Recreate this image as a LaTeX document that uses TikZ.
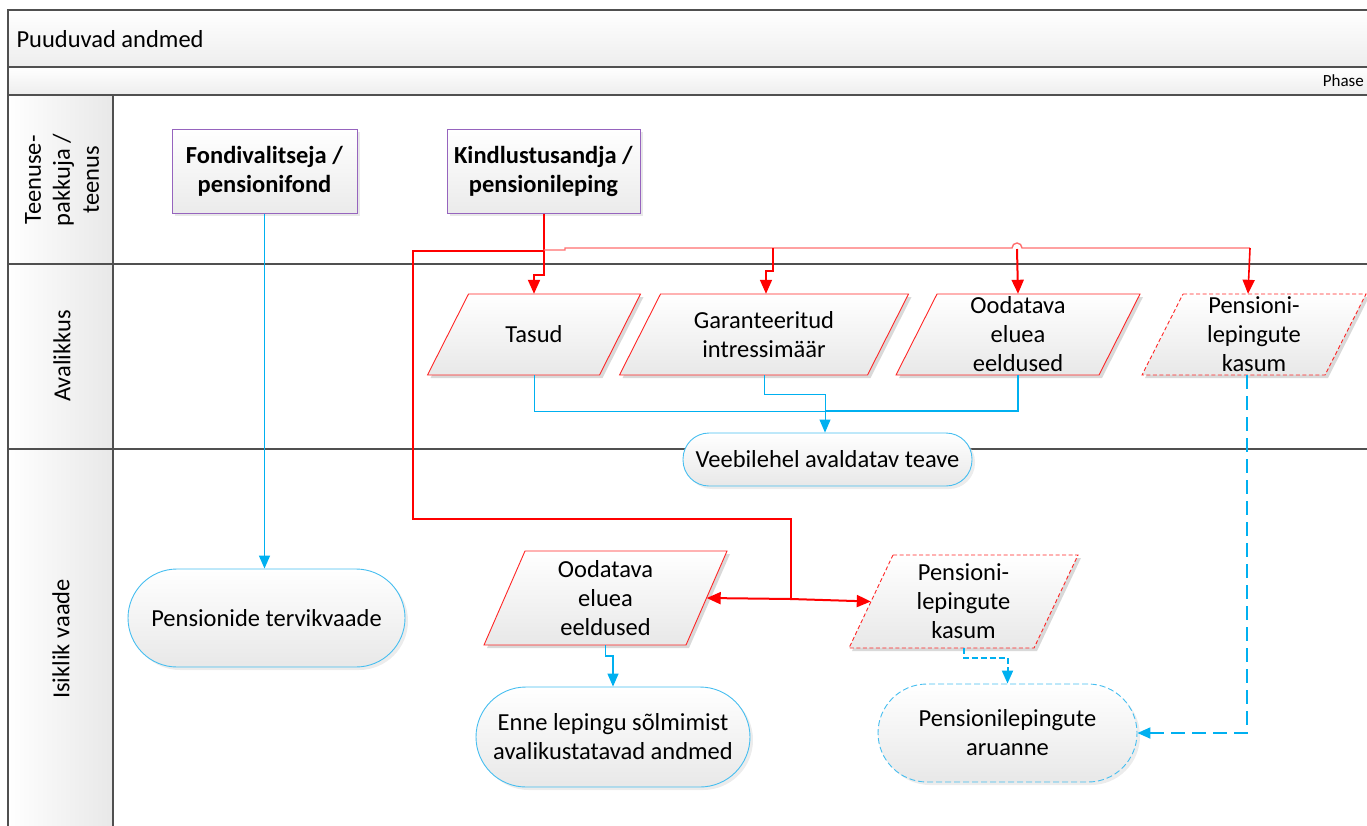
\documentclass[tikz,border=0pt]{standalone}
\usepackage{fontspec}
\setmainfont{Carlito}
\usetikzlibrary{arrows.meta,shadows,calc}
\definecolor{frame}{RGB}{80,80,80}
\definecolor{purp}{RGB}{150,100,190}
\definecolor{rd}{RGB}{255,0,0}
\definecolor{rdl}{RGB}{255,110,110}
\definecolor{bl}{RGB}{0,176,240}
\definecolor{bll}{RGB}{70,190,240}
\tikzset{
  txt/.style={font=\fontsize{24.5}{29}\selectfont, align=center, text=black},
  provbox/.style={txt, draw=purp, line width=1pt, top color=white, bottom color=black!8,
     minimum width=#1, minimum height=84, inner sep=2pt,
     drop shadow={shadow xshift=3pt,shadow yshift=-3pt,fill=black!18}},
  stad/.style={txt, draw=bll, line width=0.9pt, top color=white, bottom color=black!9,
     drop shadow={shadow xshift=3pt,shadow yshift=-3pt,fill=black!15}},
  parashape/.style={draw=rd!85, line width=0.9pt, top color=white, bottom color=black!9},
  parashadow/.style={fill=black!15},
  dashred/.style={dash pattern=on 4pt off 2.5pt},
  dashbl/.style={dash pattern=on 6pt off 3pt},
  redthick/.style={draw=rd, line width=2pt},
  redmid/.style={draw=rd, line width=1.6pt},
  redthin/.style={draw=rdl, line width=1.4pt},
  redarrow/.style={-{Triangle[length=14pt,width=12pt]}},
  blthin/.style={draw=bl, line width=1pt},
  blmid/.style={draw=bl, line width=1.4pt},
  blthick/.style={draw=bl, line width=2pt},
  blarrow/.style={-{Triangle[length=13pt,width=11pt]}},
  blfloweqdash/.style={dash pattern=on 14pt off 7pt},
  lanetxt/.style={txt, rotate=90},
}
\newcommand\paranode[7]{%
  \coordinate (#1-c) at (#2);
  \fill[parashadow] ([shift={({-#3/2+#5/2+3},{-#4/2+3})}]#1-c) -- ([shift={({#3/2+#5/2+3},{-#4/2+3})}]#1-c)
     -- ([shift={({#3/2-#5/2+3},{#4/2+3})}]#1-c) -- ([shift={({-#3/2-#5/2+3},{#4/2+3})}]#1-c) -- cycle;
  \path[parashape,#6] ([shift={({-#3/2+#5/2},{-#4/2})}]#1-c) -- ([shift={({#3/2+#5/2},{-#4/2})}]#1-c)
     -- ([shift={({#3/2-#5/2},{#4/2})}]#1-c) -- ([shift={({-#3/2-#5/2},{#4/2})}]#1-c) -- cycle;
  \node[txt, minimum width=#3, minimum height=#4, inner sep=0pt] (#1) at (#2) {#7};}
\begin{document}
\begin{tikzpicture}[x=1pt,y=-1pt]
\useasboundingbox (0,0) rectangle (1367,825);
% header bars
\path[top color=white, bottom color=black!7] (8,10) rectangle (1380,67);
\path[top color=white, bottom color=black!7] (8,67) rectangle (1380,95);
\path[left color=white, right color=black!9] (8,95) rectangle (113,830);
\draw[frame, line width=1.5pt] (1380,10) -- (8,10) -- (8,830);
\draw[frame, line width=1.5pt] (8,67) -- (1380,67);
\draw[frame, line width=1.5pt] (8,95) -- (1380,95);
\draw[frame, line width=1.5pt] (8,264) -- (1380,264);
\draw[frame, line width=1.5pt] (8,449) -- (1380,449);
\draw[frame, line width=1.2pt] (113,95) -- (113,830);
\node[txt, anchor=west] (title) at (13,39) {Puuduvad andmed};
\node[anchor=east, font=\fontsize{17}{20}\selectfont, inner sep=0pt] (phase) at (1364,81) {Phase};
\node[lanetxt] (lane1) at (62,180) {Teenuse-\\pakkuja /\\teenus};
\node[lanetxt] (lane2) at (62,356) {Avalikkus};
\node[lanetxt] (lane3) at (61,639) {Isiklik vaade};
% provider boxes
\node[provbox=185] (fond) at (264.5,171) {\textbf{Fondivalitseja /}\\\textbf{pensionifond}};
\node[provbox=193] (kind) at (543.5,171) {\textbf{Kindlustusandja /}\\\textbf{pensionileping}};
% lane 2 parallelograms
\paranode{tasud}{534,334.5}{172}{81}{41}{}{Tasud}
\paranode{gar}{764,334.5}{248}{81}{41}{}{Garanteeritud\\intressimäär}
\paranode{ood2}{1018,334.5}{203}{81}{41}{}{Oodatava\\eluea\\eeldused}
\paranode{pen2}{1254,334.5}{183}{81}{41}{dashred}{Pensioni-\\lepingute\\kasum}
% lane 3 parallelograms
\paranode{ood3}{605.5,598}{202}{94}{41}{}{Oodatava\\eluea\\eeldused}
\paranode{pen3}{963.5,601.5}{185}{93}{44}{dashred}{Pensioni-\\lepingute\\kasum}
% stadiums
\node[stad, minimum width=289, minimum height=53, rounded corners=26pt] (veeb) at (827.5,459.5) {Veebilehel avaldatav teave};
\node[stad, minimum width=277, minimum height=98, rounded corners=49pt] (pens) at (266.5,618) {Pensionide tervikvaade};
\node[stad, minimum width=274, minimum height=100, rounded corners=50pt] (enne) at (613,737) {Enne lepingu sõlmimist\\avalikustatavad andmed};
\node[stad, dashbl, minimum width=259, minimum height=98, rounded corners=49pt] (aru) at (1007.5,733) {Pensionilepingute\\aruanne};
% blue connectors
\draw[blmid, blarrow] (fond.south) -- (fond.south |- pens.north);
\draw[blthin] (tasud.south) -- (534,411) -- (825,411);
\draw[blthick] (ood2.south) -- (1018,411) -- (825,411);
\draw[blthin, blarrow] (gar.south) -- (764,394) -- (825,394) -- ([xshift=-2.5]veeb.north);
\draw[blmid, blarrow] (ood3.south) -- (605.5,656) -- (613,656) -- (enne.north);
\draw[blthick, blarrow, dashbl] (pen3.south) -- (963.5,658) -- (1007.5,658) -- (aru.north);
\draw[blthick, blarrow, blfloweqdash] ([xshift=-7]pen2.south) -- (1247,733) -- (aru.east);
% red connectors
\draw[redthick, redarrow] (kind.south) -- (543.5,275) -- (534,275) -- (tasud.north);
\draw[redthick] (543.5,251) -- (413,251) -- (413,519) -- (791,519) -- (791,599) coordinate (rsplit);
\draw[redthick, redarrow] (rsplit) -- (ood3.east);
\draw[redthick, redarrow] (rsplit) -- (pen3.west);
\draw[redthin] (543.5,250) -- (565,250) -- (565,248) -- (1012,248) arc[start angle=180,end angle=360,radius=5] -- (1250,248) coordinate (rend);
\draw[redmid, redarrow] (rend) -- ([xshift=-6]pen2.north);
\draw[redmid, redarrow] (773,248) -- (773,271) -- (766,271) -- ([xshift=2]gar.north);
\draw[redthick, redarrow] (1017,249) -- (ood2.north);
\end{tikzpicture}
\end{document}
